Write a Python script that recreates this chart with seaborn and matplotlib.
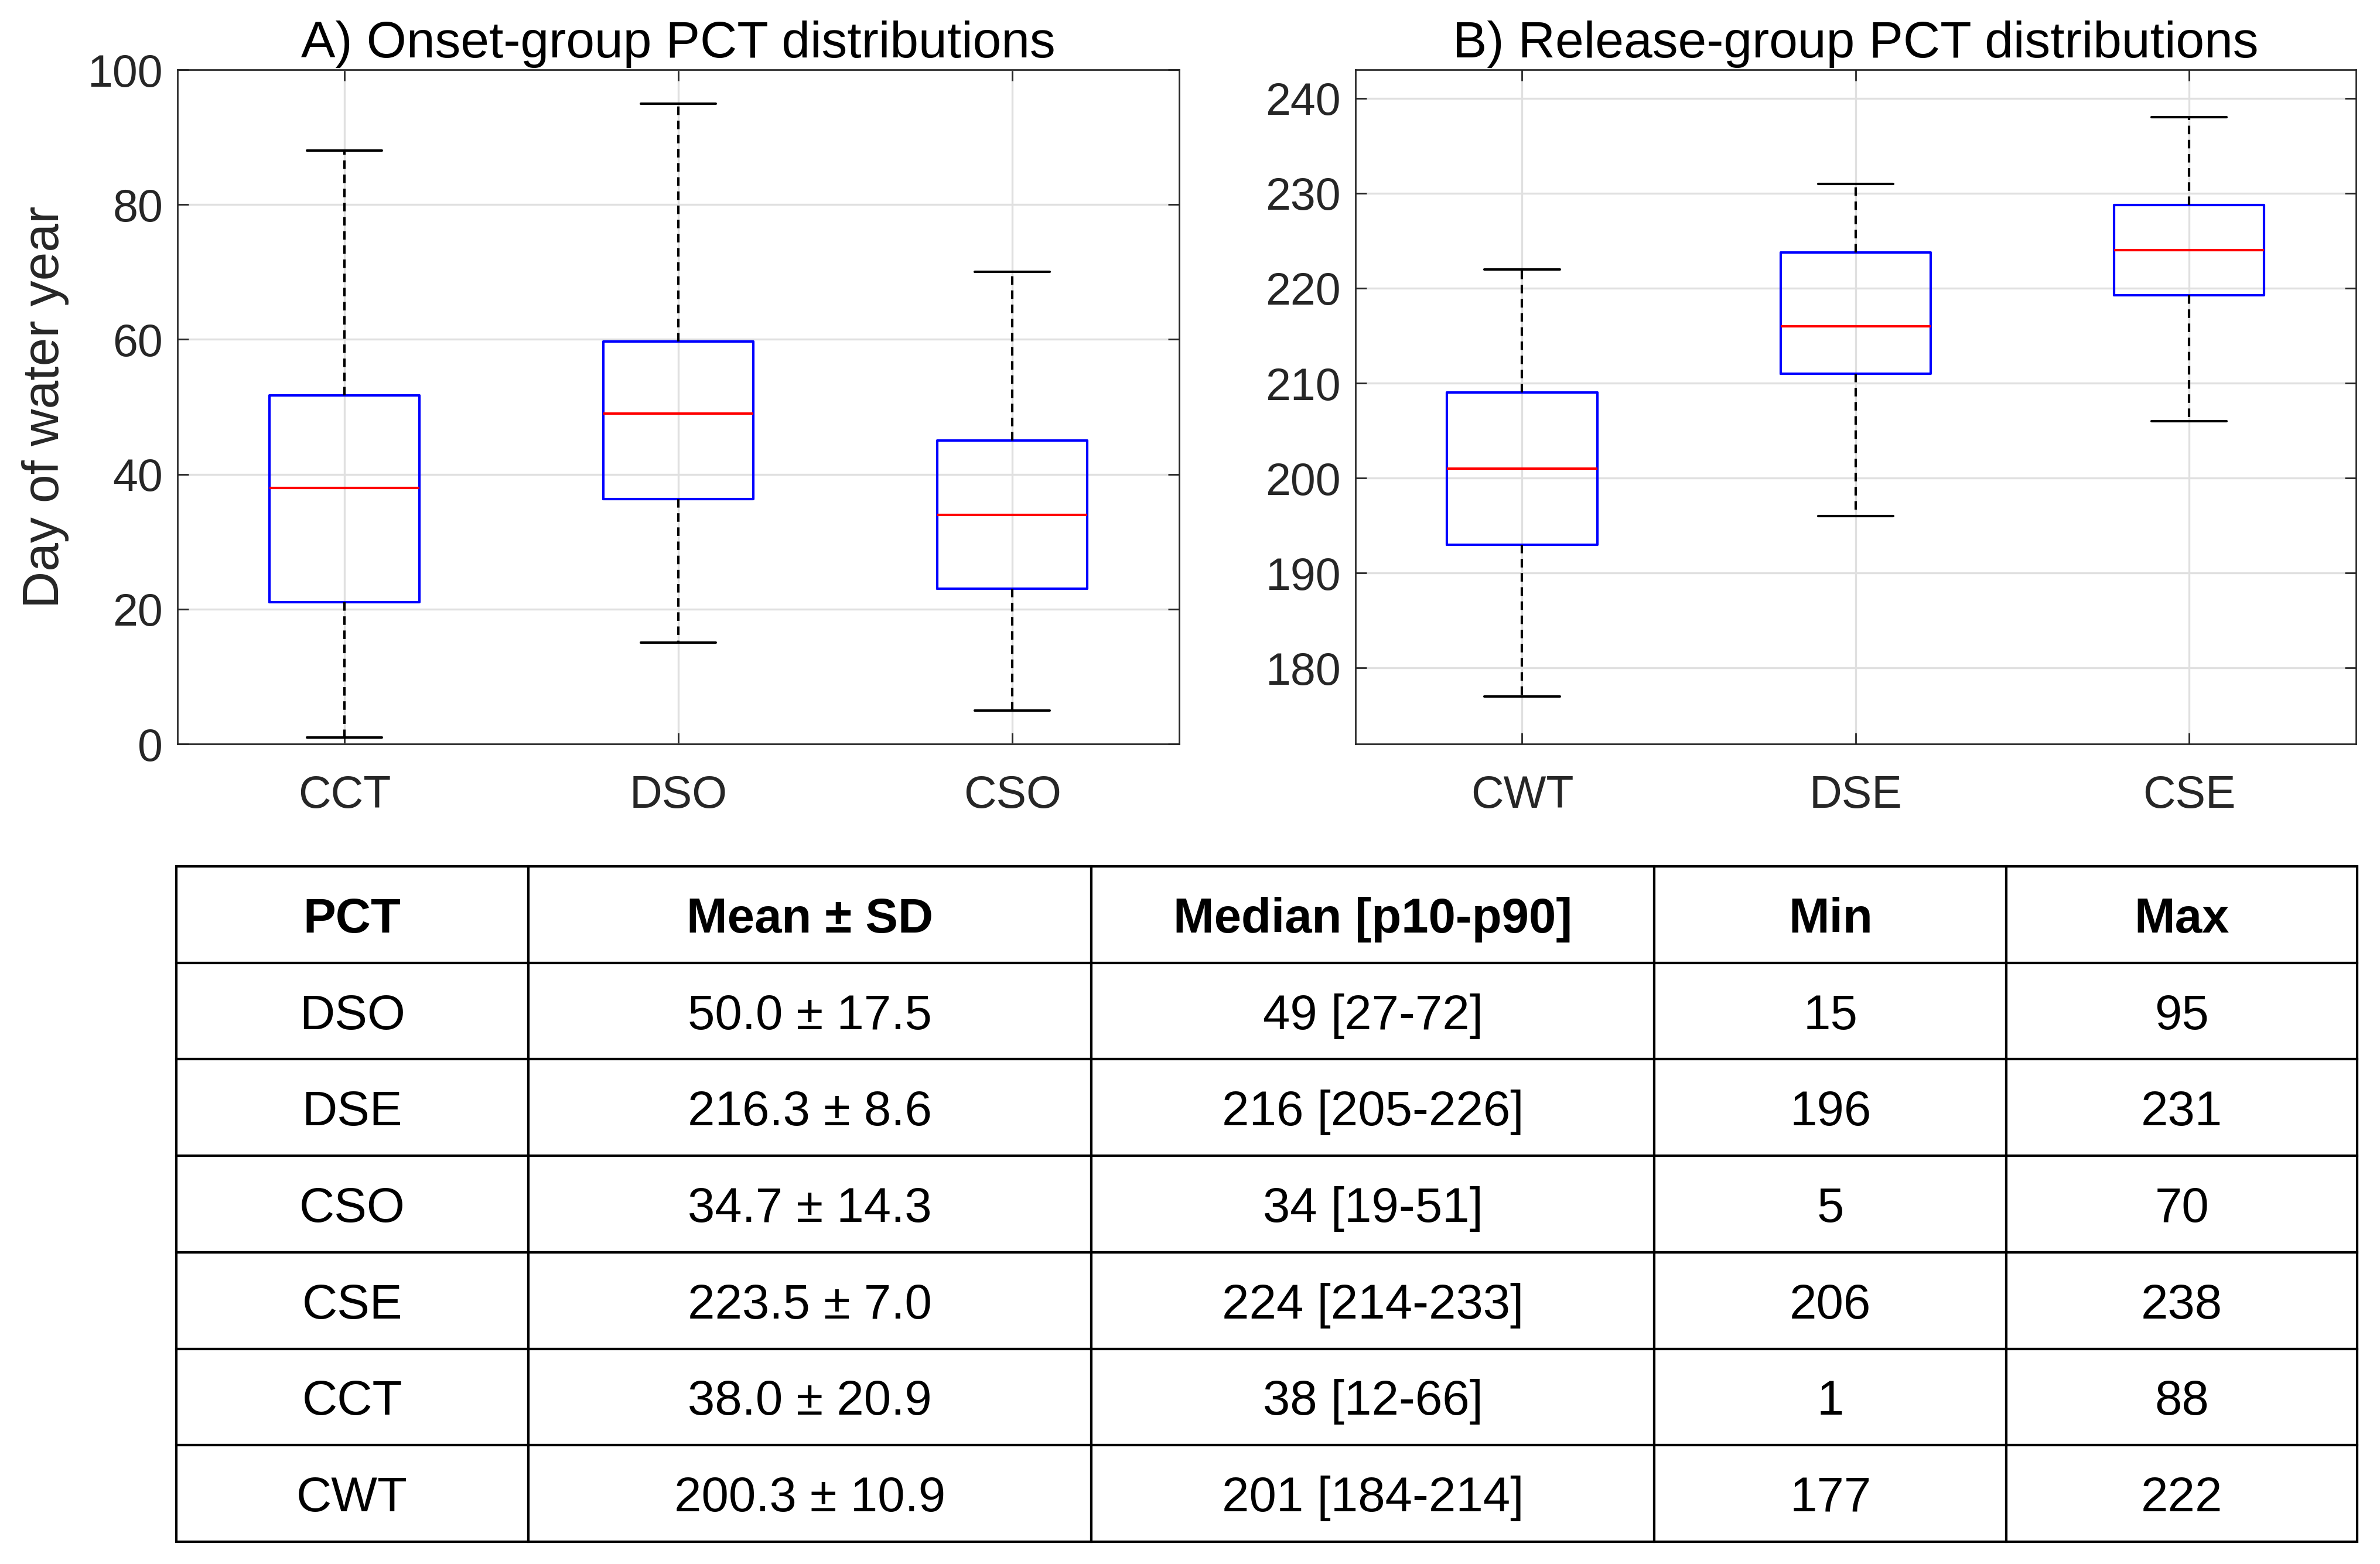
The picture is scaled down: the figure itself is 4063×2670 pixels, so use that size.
import numpy as np
import pandas as pd
import matplotlib
matplotlib.use("Agg")
import matplotlib.pyplot as plt
import seaborn as sns

# ---------------- data ----------------
onset_groups = ["CCT", "DSO", "CSO"]
onset_low = [1, 15, 5]
onset_q1 = [21, 36.3, 23]
onset_median = [38, 49, 34]
onset_q3 = [51.7, 59.7, 45]
onset_high = [88, 95, 70]

release_groups = ["CWT", "DSE", "CSE"]
release_low = [177, 196, 206]
release_q1 = [193, 211, 219.25]
release_median = [201, 216, 224]
release_q3 = [209, 223.75, 228.75]
release_high = [222, 231, 238]

table_header = ["PCT", "Mean \u00b1 SD", "Median [p10-p90]", "Min", "Max"]
table_pct = ["DSO", "DSE", "CSO", "CSE", "CCT", "CWT"]
table_mean = ["50.0", "216.3", "34.7", "223.5", "38.0", "200.3"]
table_sd = ["17.5", "8.6", "14.3", "7.0", "20.9", "10.9"]
table_median = ["49", "216", "34", "224", "38", "201"]
table_p10 = ["27", "205", "19", "214", "12", "184"]
table_p90 = ["72", "226", "51", "233", "66", "214"]
table_min = ["15", "196", "5", "206", "1", "177"]
table_max = ["95", "231", "70", "238", "88", "222"]

# ---------------- style ----------------
sns.set_style("white")
plt.rcParams["font.family"] = ["Liberation Sans", "DejaVu Sans"]
plt.rcParams["axes.unicode_minus"] = False

DARK = "#262626"
fig = plt.figure(figsize=(4063 / 300, 2670 / 300), dpi=300)


def five_num_frame(groups, low, q1, med, q3, high):
    rows = []
    for g, a, b, c, d, e in zip(groups, low, q1, med, q3, high):
        for v in (a, b, c, d, e):
            rows.append({"group": g, "value": v})
    return pd.DataFrame(rows)


def draw_panel(ax, df, order, title, ylim, yticks, ylabel=None):
    sns.boxplot(
        data=df, x="group", y="value", order=order, ax=ax,
        fill=False, width=0.45, whis=(0, 100), showfliers=False,
        color="blue", saturation=1, linewidth=1.0,
        boxprops=dict(color="#0000ff", linewidth=1.0),
        medianprops=dict(color="#ff0000", linewidth=1.0),
        whiskerprops=dict(color="black", linewidth=1.0, linestyle=(0, (3.5, 2.3))),
        capprops=dict(color="black", linewidth=1.0),
    )
    ax.set_xlim(-0.5, len(order) - 0.5)
    ax.set_ylim(*ylim)
    ax.set_yticks(yticks)
    ax.grid(True, color="#e0e0e0", linewidth=0.8)
    ax.set_axisbelow(True)
    for s in ax.spines.values():
        s.set_visible(True)
        s.set_color(DARK)
        s.set_linewidth(0.65)
    ax.tick_params(axis="both", direction="in", length=4.5, width=0.65,
                   color=DARK, labelcolor=DARK, labelsize=18.5,
                   top=True, right=True, bottom=True, left=True)
    ax.tick_params(axis="x", pad=12.5)
    ax.tick_params(axis="y", pad=6)
    ax.set_xlabel("")
    if ylabel:
        ax.set_ylabel(ylabel, fontsize=21, color=DARK, labelpad=7.5)
    else:
        ax.set_ylabel("")
    ax.set_title(title, fontsize=21, color="black", pad=5)


ax_a = fig.add_axes([0.0746, 0.5243, 0.4209, 0.4311])
draw_panel(ax_a,
           five_num_frame(onset_groups, onset_low, onset_q1, onset_median, onset_q3, onset_high),
           onset_groups, "A) Onset-group PCT distributions", (0, 100),
           [0, 20, 40, 60, 80, 100], ylabel="Day of water year")

ax_b = fig.add_axes([0.5695, 0.5243, 0.4203, 0.4311])
draw_panel(ax_b,
           five_num_frame(release_groups, release_low, release_q1, release_median, release_q3, release_high),
           release_groups, "B) Release-group PCT distributions", (172.0, 243.0),
           [180, 190, 200, 210, 220, 230, 240])

# ---------------- table ----------------
ax_t = fig.add_axes([0.0740, 0.0142, 0.9164, 0.4319])
ax_t.axis("off")
cell_text = []
for i in range(len(table_pct)):
    cell_text.append([
        table_pct[i],
        f"{table_mean[i]} \u00b1 {table_sd[i]}",
        f"{table_median[i]} [{table_p10[i]}-{table_p90[i]}]",
        table_min[i],
        table_max[i],
    ])
col_w = [0.1614, 0.2582, 0.2582, 0.1614, 0.1608]
tbl = ax_t.table(cellText=cell_text, colLabels=table_header, colWidths=col_w,
                 cellLoc="center", loc="center", bbox=[0, 0, 1, 1])
tbl.auto_set_font_size(False)
tbl.set_fontsize(20)
for (r, c), cell in tbl.get_celld().items():
    cell.set_edgecolor("black")
    cell.set_linewidth(1.0)
    cell.set_facecolor("white")
    cell.get_text().set_color("black")
    cell.get_text().set_verticalalignment("center_baseline")
    if r == 0:
        cell.get_text().set_fontweight("bold")

fig.savefig("out.png", dpi=300, facecolor="white")
